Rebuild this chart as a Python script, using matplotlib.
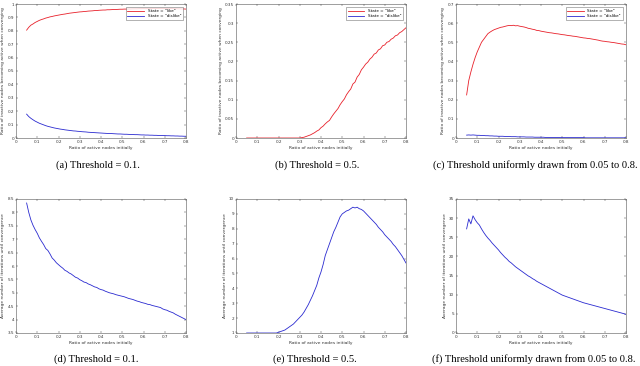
import numpy as np
import matplotlib
matplotlib.use("Agg")
import matplotlib.pyplot as plt

# ratio of active nodes initially (sampling grid of the simulation)
ratio = np.linspace(0.05, 0.80, 76)

like_a = [0.805, 0.826, 0.842, 0.851, 0.862, 0.870, 0.878, 0.884, 0.889, 0.895,
          0.899, 0.904, 0.907, 0.911, 0.914, 0.917, 0.920, 0.923, 0.925, 0.928,
          0.931, 0.933, 0.935, 0.937, 0.939, 0.941, 0.942, 0.944, 0.945, 0.947,
          0.948, 0.949, 0.951, 0.951, 0.953, 0.954, 0.955, 0.955, 0.957, 0.957,
          0.958, 0.959, 0.959, 0.960, 0.961, 0.961, 0.962, 0.962, 0.963, 0.963,
          0.964, 0.964, 0.964, 0.965, 0.965, 0.966, 0.965, 0.966, 0.966, 0.967,
          0.966, 0.967, 0.966, 0.967, 0.966, 0.966, 0.966, 0.965, 0.966, 0.965,
          0.965, 0.964, 0.964, 0.963, 0.963, 0.962]
dislike_a = [0.178, 0.160, 0.147, 0.136, 0.126, 0.118, 0.110, 0.104, 0.098, 0.092,
             0.087, 0.083, 0.079, 0.075, 0.072, 0.069, 0.066, 0.064, 0.061, 0.059,
             0.057, 0.055, 0.053, 0.052, 0.050, 0.049, 0.047, 0.046, 0.045, 0.043,
             0.042, 0.041, 0.040, 0.039, 0.038, 0.037, 0.036, 0.035, 0.034, 0.033,
             0.033, 0.032, 0.031, 0.030, 0.030, 0.029, 0.028, 0.028, 0.027, 0.026,
             0.026, 0.025, 0.025, 0.024, 0.023, 0.023, 0.022, 0.022, 0.021, 0.021,
             0.020, 0.020, 0.019, 0.019, 0.018, 0.018, 0.017, 0.017, 0.016, 0.016,
             0.015, 0.015, 0.014, 0.014, 0.013, 0.013]

like_b = [0.0, 0.0, 0.0, 0.0, 0.0, 0.0, 0.0, 0.0, 0.0, 0.0,
          0.0, 0.0, 0.0, 0.0, 0.0, 0.0, 0.0, 0.0, 0.0, 0.0,
          0.0, 0.0, 0.0, 0.0, 0.0, 0.0, 0.001, 0.002, 0.004, 0.006,
          0.008, 0.011, 0.014, 0.018, 0.021, 0.027, 0.031, 0.037, 0.042, 0.046,
          0.055, 0.063, 0.070, 0.077, 0.087, 0.095, 0.102, 0.113, 0.121, 0.128,
          0.141, 0.146, 0.159, 0.166, 0.178, 0.185, 0.193, 0.198, 0.206, 0.211,
          0.219, 0.222, 0.230, 0.233, 0.241, 0.243, 0.250, 0.252, 0.258, 0.261,
          0.267, 0.269, 0.275, 0.278, 0.283, 0.288]
dislike_b = [0.0] * 76

like_c = [0.225, 0.300, 0.345, 0.385, 0.420, 0.450, 0.475, 0.500, 0.515, 0.530,
          0.545, 0.553, 0.560, 0.566, 0.570, 0.574, 0.578, 0.580, 0.583, 0.586,
          0.588, 0.587, 0.589, 0.586, 0.587, 0.584, 0.582, 0.580, 0.577, 0.573,
          0.571, 0.568, 0.566, 0.562, 0.561, 0.558, 0.556, 0.554, 0.552, 0.550,
          0.549, 0.547, 0.545, 0.544, 0.542, 0.540, 0.539, 0.537, 0.535, 0.534,
          0.532, 0.531, 0.529, 0.527, 0.525, 0.523, 0.522, 0.520, 0.519, 0.517,
          0.515, 0.513, 0.511, 0.508, 0.506, 0.505, 0.503, 0.502, 0.500, 0.499,
          0.497, 0.495, 0.493, 0.491, 0.490, 0.487]
dislike_c = [0.015, 0.016, 0.015, 0.016, 0.015, 0.014, 0.014, 0.013, 0.013, 0.012,
             0.012, 0.011, 0.011, 0.010, 0.010, 0.009, 0.009, 0.009, 0.008, 0.008,
             0.008, 0.007, 0.007, 0.007, 0.006, 0.006, 0.006, 0.006, 0.005, 0.005,
             0.005, 0.005, 0.004, 0.004, 0.004, 0.004, 0.004, 0.003, 0.003, 0.003,
             0.003, 0.003, 0.003, 0.003, 0.002, 0.002, 0.002, 0.002, 0.002, 0.002,
             0.002, 0.002, 0.002, 0.002, 0.002, 0.002, 0.001, 0.001, 0.001, 0.001,
             0.001, 0.001, 0.001, 0.001, 0.001, 0.001, 0.001, 0.001, 0.001, 0.001,
             0.001, 0.001, 0.001, 0.001, 0.001, 0.001]

iters_d = [8.35, 8.00, 7.72, 7.52, 7.36, 7.22, 7.05, 6.92, 6.80, 6.65,
           6.58, 6.45, 6.30, 6.22, 6.12, 6.05, 5.98, 5.92, 5.84, 5.80,
           5.74, 5.70, 5.64, 5.58, 5.55, 5.49, 5.45, 5.40, 5.38, 5.33,
           5.30, 5.26, 5.22, 5.20, 5.15, 5.12, 5.10, 5.06, 5.03, 5.00,
           4.98, 4.96, 4.93, 4.91, 4.89, 4.87, 4.85, 4.82, 4.79, 4.77,
           4.75, 4.72, 4.69, 4.67, 4.64, 4.62, 4.60, 4.57, 4.56, 4.53,
           4.51, 4.49, 4.47, 4.45, 4.40, 4.37, 4.35, 4.31, 4.28, 4.25,
           4.20, 4.16, 4.12, 4.08, 4.04, 4.00]
iters_e = [1.0, 1.0, 1.0, 1.0, 1.0, 1.0, 1.0, 1.0, 1.0, 1.0,
           1.0, 1.0, 1.0, 1.0, 1.0, 1.05, 1.1, 1.15, 1.2, 1.3,
           1.4, 1.5, 1.6, 1.75, 1.9, 2.05, 2.2, 2.4, 2.65, 2.9,
           3.2, 3.5, 3.85, 4.2, 4.7, 5.1, 5.6, 6.2, 6.6, 7.0,
           7.4, 7.8, 8.1, 8.45, 8.8, 9.0, 9.1, 9.2, 9.25, 9.35,
           9.45, 9.4, 9.45, 9.35, 9.3, 9.2, 9.05, 8.9, 8.75, 8.6,
           8.45, 8.3, 8.1, 7.95, 7.8, 7.6, 7.45, 7.3, 7.15, 6.95,
           6.8, 6.6, 6.4, 6.2, 5.95, 5.7]
iters_f = [27.2, 29.8, 28.5, 30.6, 29.6, 28.8, 28.2, 27.2, 26.3, 25.5,
           24.8, 24.2, 23.5, 22.9, 22.3, 21.7, 21.0, 20.4, 19.8, 19.3,
           18.7, 18.3, 17.8, 17.3, 16.9, 16.5, 16.1, 15.7, 15.3, 14.9,
           14.6, 14.2, 13.9, 13.5, 13.2, 12.9, 12.6, 12.3, 12.0, 11.7,
           11.4, 11.1, 10.8, 10.5, 10.2, 9.9, 9.7, 9.5, 9.3, 9.1,
           8.9, 8.7, 8.5, 8.3, 8.1, 7.9, 7.75, 7.6, 7.45, 7.3,
           7.15, 7.0, 6.85, 6.7, 6.55, 6.4, 6.25, 6.1, 5.95, 5.8,
           5.65, 5.5, 5.35, 5.2, 5.05, 4.85]

captions = ["(a) Threshold = 0.1.", "(b) Threshold = 0.5.",
            "(c) Threshold uniformly drawn from 0.05 to 0.8.",
            "(d) Threshold = 0.1.", "(e) Threshold = 0.5.",
            "(f) Threshold uniformly drawn from 0.05 to 0.8."]
xticks = [0, 0.1, 0.2, 0.3, 0.4, 0.5, 0.6, 0.7, 0.8]
xticklabels = ["0", "0.1", "0.2", "0.3", "0.4", "0.5", "0.6", "0.7", "0.8"]
legend_labels = ['State = "like"', 'State = "dislike"']
ylab_top = "Ratio of inactive nodes becoming active when converging"
ylab_bot = "Average number of iterations until convergence"
xlab = "Ratio of active nodes initially"

RED = "#e8202a"
BLUE = "#2a2ad0"

fig = plt.figure(figsize=(6.4, 3.66), dpi=100)
W, H = 640, 366


def make_ax(left, top, right, bottom):
    return fig.add_axes([left / W, 1 - bottom / H, (right - left) / W, (bottom - top) / H])


def style(ax, ylim, yticks, yticklabels, ylabel):
    ax.set_xlim(0, 0.8)
    ax.set_ylim(*ylim)
    ax.set_xticks(xticks)
    ax.set_xticklabels(xticklabels)
    ax.set_yticks(yticks)
    ax.set_yticklabels(yticklabels)
    ax.tick_params(direction="in", top=True, right=True, length=1.5, width=0.3,
                   labelsize=3, pad=1.5, colors="#333333")
    for s in ax.spines.values():
        s.set_linewidth(0.4)
        s.set_color("#555555")
    ax.set_xlabel(xlab, fontsize=3.2, labelpad=1.5, color="#333333")
    ax.set_ylabel(ylabel, fontsize=3.2, labelpad=1.5, color="#333333")


lefts = [16, 236, 456]
top_axes = [make_ax(l, 4, l + 170, 138) for l in lefts]
bot_axes = [make_ax(l, 199, l + 170, 333) for l in lefts]

top_data = [(like_a, dislike_a), (like_b, dislike_b), (like_c, dislike_c)]
top_ylims = [(0, 1), (0, 0.35), (0, 0.7)]
top_yticks = [
    ([0, .1, .2, .3, .4, .5, .6, .7, .8, .9, 1], ["0", "0.1", "0.2", "0.3", "0.4", "0.5", "0.6", "0.7", "0.8", "0.9", "1"]),
    ([0, .05, .1, .15, .2, .25, .3, .35], ["0", "0.05", "0.1", "0.15", "0.2", "0.25", "0.3", "0.35"]),
    ([0, .1, .2, .3, .4, .5, .6, .7], ["0", "0.1", "0.2", "0.3", "0.4", "0.5", "0.6", "0.7"]),
]
for ax, (lk, dl), yl, (yt, ytl) in zip(top_axes, top_data, top_ylims, top_yticks):
    ax.plot(ratio, lk, color=RED, lw=0.6, label=legend_labels[0])
    ax.plot(ratio, dl, color=BLUE, lw=0.6, label=legend_labels[1])
    style(ax, yl, yt, ytl, ylab_top)
    leg = ax.legend(loc="upper right", fontsize=3, frameon=True, fancybox=False,
                    handlelength=4, borderpad=0.4, labelspacing=0.3, borderaxespad=0.8)
    leg.get_frame().set_linewidth(0.4)
    leg.get_frame().set_edgecolor("#555555")

bot_data = [iters_d, iters_e, iters_f]
bot_ylims = [(3.5, 8.5), (1, 10), (0, 35)]
bot_yticks = [
    ([3.5, 4, 4.5, 5, 5.5, 6, 6.5, 7, 7.5, 8, 8.5], ["3.5", "4", "4.5", "5", "5.5", "6", "6.5", "7", "7.5", "8", "8.5"]),
    ([1, 2, 3, 4, 5, 6, 7, 8, 9, 10], ["1", "2", "3", "4", "5", "6", "7", "8", "9", "10"]),
    ([0, 5, 10, 15, 20, 25, 30, 35], ["0", "5", "10", "15", "20", "25", "30", "35"]),
]
for ax, it, yl, (yt, ytl) in zip(bot_axes, bot_data, bot_ylims, bot_yticks):
    ax.plot(ratio, it, color=BLUE, lw=0.6)
    style(ax, yl, yt, ytl, ylab_bot)

cap_x = [98, 317, 535, 96, 315, 534]
cap_y = [168, 168, 168, 362, 362, 362]
for cx, cy, txt in zip(cap_x, cap_y, captions):
    fig.text(cx / W, 1 - cy / H, txt, ha="center", va="baseline",
             fontsize=7.6, family="Liberation Serif")

fig.savefig("out.png", dpi=100)
